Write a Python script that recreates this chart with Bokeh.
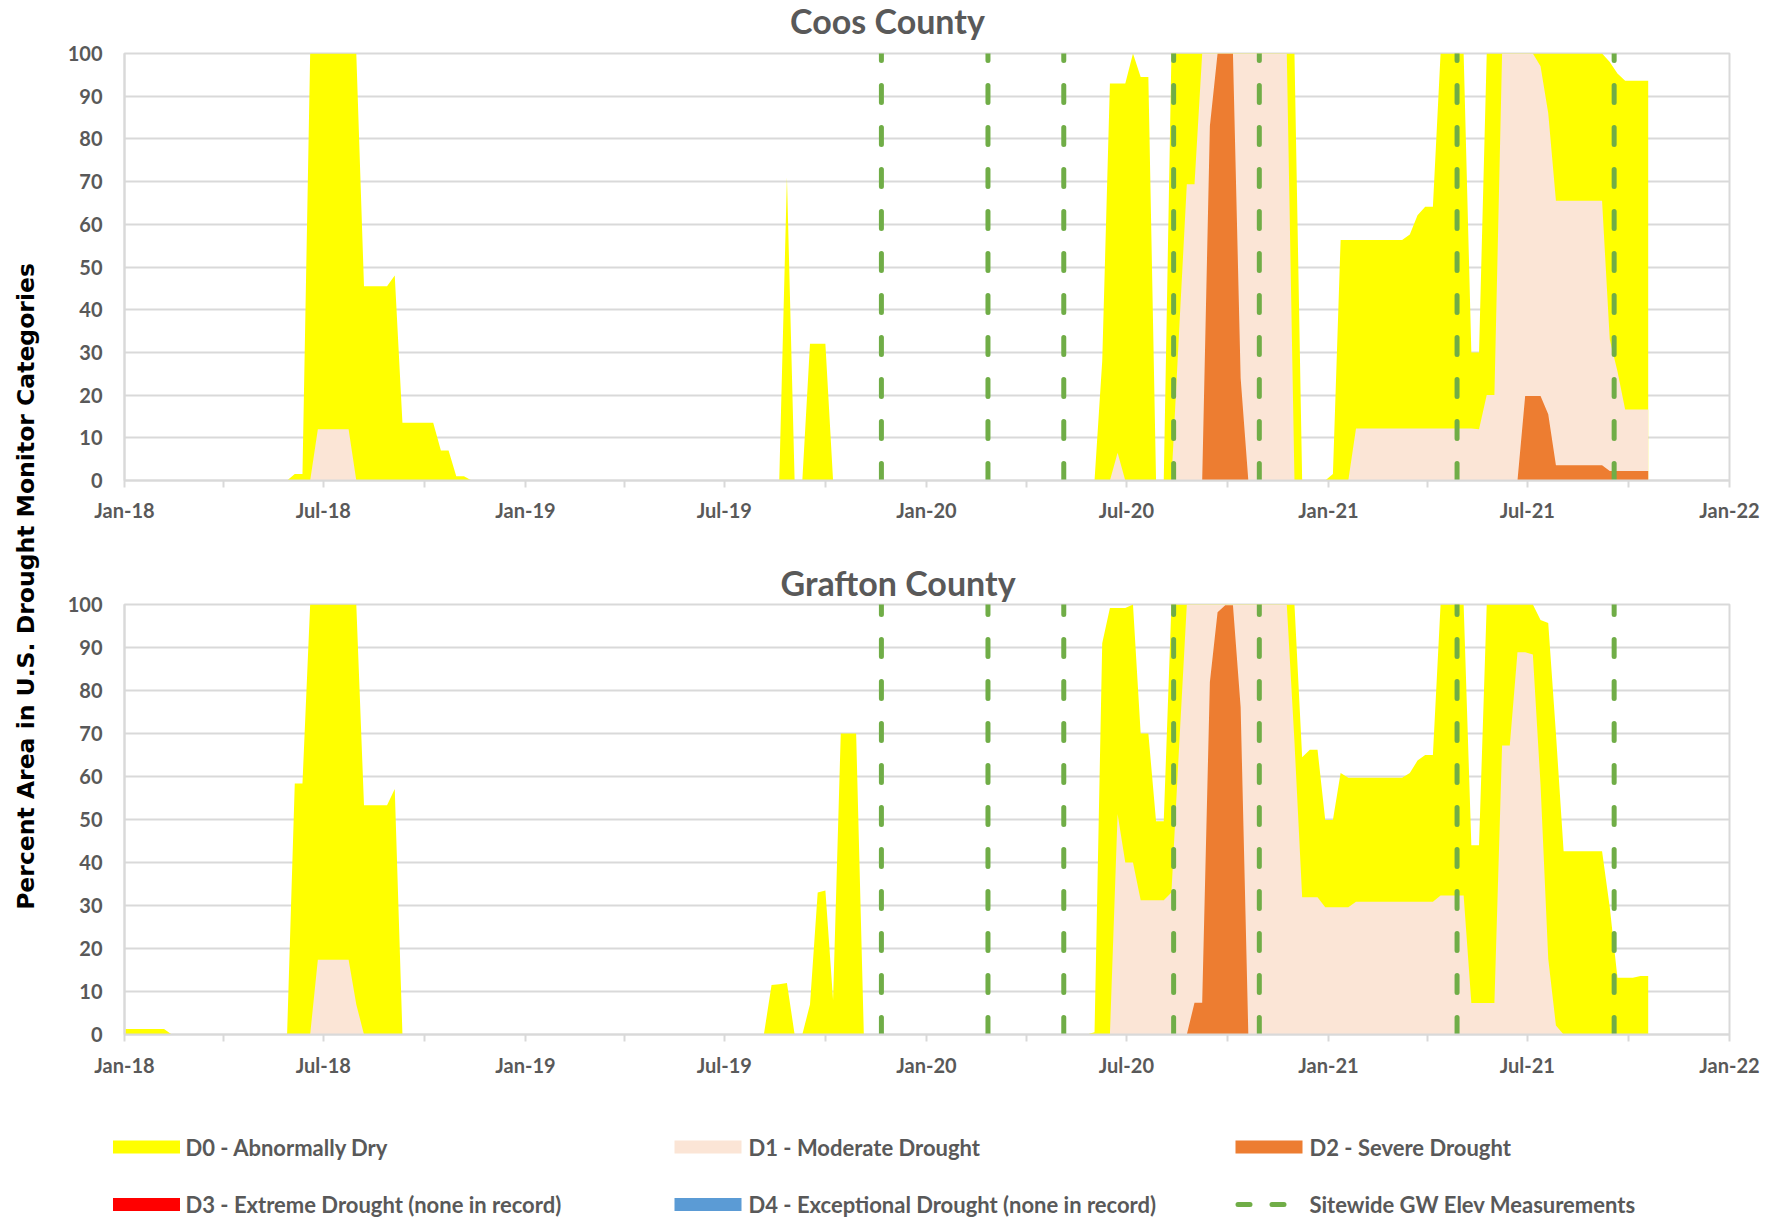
import math
import numpy as np
import pandas as pd
from bokeh.plotting import figure
from bokeh.layouts import row, column
from bokeh.models import Range1d, FixedTicker, DatetimeTickFormatter, ColumnDataSource
from bokeh.embed import file_html
from bokeh.resources import INLINE
from bokeh.core.properties import value

# ---------------- data ----------------
FIRST_WEEK = "2018-01-02"   # weekly U.S. Drought Monitor maps (Tuesdays)
N_WEEKS = 199

# cumulative percent area, episodes: (first week, weekly values); zero elsewhere
coos_d0 = [
    ("2018-05-29", [0, 1.5, 1.5, 100, 100, 100, 100, 100, 100, 100, 45.5, 45.5, 45.5, 45.5,
                    48, 13.5, 13.5, 13.5, 13.5, 13.5, 7, 7, 1, 1, 0]),
    ("2019-08-20", [0, 71, 0, 0, 32, 32, 32, 0]),
    ("2020-06-02", [0, 28, 93, 93, 93, 100, 94.5, 94.5, 0]),
    ("2020-08-04", [0, 100, 100, 100, 100, 100, 100, 100, 100, 100, 100, 100, 100, 100, 100,
                    100, 100, 100, 0]),
    ("2020-12-29", [0, 1.5, 56.3, 56.3, 56.3, 56.3, 56.3, 56.3, 56.3, 56.3, 56.3, 57.6, 62.1,
                    64.1, 64.1, 100, 100, 100, 100, 30, 30, 100, 100, 100, 100, 100, 100, 100,
                    100, 100, 100, 100, 100, 100, 100, 100, 100, 98, 95.3, 93.6, 93.6, 93.6, 93.6]),
]
coos_d1 = [
    ("2018-06-19", [0, 12, 12, 12, 12, 12, 0]),
    ("2020-06-16", [0, 6.5, 0]),
    ("2020-08-11", [0, 35, 69.4, 69.4, 100, 100, 100, 100, 100, 100, 100, 100, 100, 100, 100,
                    100, 0]),
    ("2021-01-19", [0, 12.2, 12.2, 12.2, 12.2, 12.2, 12.2, 12.2, 12.2, 12.2, 12.2, 12.2, 12.2,
                    12.2, 12.2, 12.2, 12.2, 12, 20, 20, 100, 100, 100, 100, 100, 97, 86, 65.5,
                    65.5, 65.5, 65.5, 65.5, 65.5, 65.5, 33, 25.6, 16.6, 16.6, 16.6, 16.6]),
]
coos_d2 = [
    ("2020-09-08", [0, 83, 100, 100, 100, 24, 0]),
    ("2021-06-22", [0, 19.8, 19.8, 19.8, 15.5, 3.6, 3.6, 3.6, 3.6, 3.6, 3.6, 3.6,
                    2.2, 2.2, 2.2, 2.2, 2.2, 2.2]),
]

grafton_d0 = [
    ("2018-01-02", [1.3, 1.3, 1.3, 1.3, 1.3, 1.3, 0]),
    ("2018-05-29", [0, 58.4, 58.4, 100, 100, 100, 100, 100, 100, 100, 53.3, 53.3, 53.3, 53.3,
                    57.1, 0]),
    ("2019-08-06", [0, 11.5, 11.7, 12, 0, 0, 7, 33, 33.5, 8, 70, 70, 70, 0]),
    ("2020-05-26", [0, 0.5, 91, 99.2, 99.2, 99.2, 100, 70, 70, 49.6, 49.6,
                    100, 100, 100, 100, 100, 100, 100, 100, 100, 100, 100, 100, 100, 100, 100,
                    100, 100, 64.5, 66.2, 66.2, 49.9, 49.9, 60.8, 59.7, 59.7, 59.7, 59.7, 59.7,
                    59.7, 59.7, 59.7, 60.8, 63.7, 65, 65, 100, 100, 100, 100, 44, 44, 100, 100,
                    100, 100, 100, 100, 100, 96.4, 95.7, 70, 42.6, 42.6, 42.6, 42.6, 42.6, 42.6,
                    29.6, 13.2, 13.2, 13.2, 13.6, 13.6]),
]
grafton_d1 = [
    ("2018-06-19", [0, 17.4, 17.4, 17.4, 17.4, 17.4, 7, 0]),
    ("2020-06-16", [0, 51.3, 40, 40, 31.2, 31.2, 31.2, 31.2, 33, 67, 100, 100, 100, 100, 100,
                    100, 100, 100, 100, 100, 100, 100, 100, 100, 68, 31.9, 31.9, 31.9, 29.6,
                    29.6, 29.6, 29.6, 30.9, 30.9, 30.9, 30.9, 30.9, 30.9, 30.9, 30.9, 30.9, 30.9,
                    30.9, 32.3, 32.3, 32.3, 32.3, 7.3, 7.3, 7.3, 7.3, 67.2, 67.2, 88.9, 88.9,
                    88.4, 58, 17.6, 2.1, 0]),
]
grafton_d2 = [
    ("2020-08-25", [0, 7.4, 7.4, 82, 98.2, 99.8, 99.8, 76.1, 0]),
]

gw_measurements = ["2019-11-21", "2020-02-26", "2020-05-05", "2020-08-13",
                   "2020-10-30", "2021-04-28", "2021-09-18"]

x_ticks_labeled = ["2018-01-01", "2018-07-01", "2019-01-01", "2019-07-01", "2020-01-01",
                   "2020-07-01", "2021-01-01", "2021-07-01", "2022-01-01"]
x_ticks_minor = ["2018-04-01", "2018-10-01", "2019-04-01", "2019-10-01", "2020-04-01",
                 "2020-10-01", "2021-04-01", "2021-10-01"]
y_ticks = [0, 10, 20, 30, 40, 50, 60, 70, 80, 90, 100]

county_titles = ["Coos County", "Grafton County"]
y_title = "Percent Area in U.S. Drought Monitor Categories"
legend_labels = ["D0 - Abnormally Dry", "D1 - Moderate Drought", "D2 - Severe Drought",
                 "D3 - Extreme Drought (none in record)", "D4 - Exceptional Drought (none in record)",
                 "Sitewide GW Elev Measurements"]

# ---------------- styling ----------------
C_D0, C_D1, C_D2, C_D3, C_D4 = "#FFFF00", "#FBE5D6", "#ED7D31", "#FF0000", "#5B9BD5"
C_GW = "#70AD47"
GRID = "#D9D9D9"
TXT = "#595959"
FONT = "Lato"
TITLE_SIZE = "34px"

COL_W = 1708          # width of the chart column
B_LEFT, B_RIGHT = 66, 37
FRAME_L = 58 + B_LEFT
FRAME_R = 58 + COL_W - B_RIGHT

weeks = pd.date_range(FIRST_WEEK, periods=N_WEEKS, freq="7D")


def expand(episodes):
    arr = np.zeros(N_WEEKS)
    for start, vals in episodes:
        i = (pd.Timestamp(start) - weeks[0]).days // 7
        arr[i:i + len(vals)] = vals
    return arr


def ms(d):
    return pd.Timestamp(d).value / 1e6


def blank(width, height, xr, yr, **kw):
    p = figure(width=width, height=height, x_range=xr, y_range=yr,
               output_backend="svg", toolbar_location=None,
               x_axis_location=None, y_axis_location=None, **kw)
    p.outline_line_color = None
    p.grid.grid_line_color = None
    return p


def title_strip(text, height, cx, cy):
    t = blank(COL_W, height, Range1d(FRAME_L, FRAME_R), Range1d(0, height),
              min_border_left=B_LEFT, min_border_right=B_RIGHT,
              min_border_top=0, min_border_bottom=0)
    t.text(x=[cx], y=[cy], text=[text], text_align="center", text_baseline="middle",
           text_font=value(FONT), text_font_style="bold", text_font_size=TITLE_SIZE,
           text_color=TXT)
    return t


def panel(d0, d1, d2, height, b_top, b_bottom, xlab_standoff, title=None):
    p = figure(width=COL_W, height=height, x_axis_type="datetime",
               output_backend="svg", toolbar_location=None,
               x_range=Range1d(pd.Timestamp("2018-01-01"), pd.Timestamp("2022-01-01")),
               y_range=Range1d(0, 100),
               min_border_left=B_LEFT, min_border_right=B_RIGHT,
               min_border_top=b_top, min_border_bottom=b_bottom)
    if title is not None:
        text, offset, standoff = title
        p.title.text = text
        p.title.align = "left"
        p.title.offset = offset
        p.title.standoff = standoff
        p.title.text_font = FONT
        p.title.text_font_style = "bold"
        p.title.text_font_size = TITLE_SIZE
        p.title.text_color = TXT
    src = ColumnDataSource(dict(x=weeks, d0=expand(d0), d1=expand(d1), d2=expand(d2)))
    p.varea(x="x", y1=0, y2="d0", source=src, fill_color=C_D0)
    p.varea(x="x", y1=0, y2="d1", source=src, fill_color=C_D1)
    p.varea(x="x", y1=0, y2="d2", source=src, fill_color=C_D2)
    gw = [pd.Timestamp(d) for d in gw_measurements]
    p.segment(x0=gw, y0=[0] * len(gw), x1=gw, y1=[100] * len(gw),
              line_color=C_GW, line_width=5, line_dash="17 25", line_cap="round")

    p.xgrid.grid_line_color = None
    p.ygrid.ticker = FixedTicker(ticks=y_ticks)
    p.ygrid.grid_line_color = GRID
    p.ygrid.grid_line_width = 2
    p.outline_line_color = GRID
    p.outline_line_width = 2

    p.yaxis.ticker = FixedTicker(ticks=y_ticks)
    p.yaxis.axis_line_color = GRID
    p.yaxis.axis_line_width = 2
    p.yaxis.major_tick_line_color = None
    p.yaxis.minor_tick_line_color = None
    p.yaxis.major_tick_out = 0
    p.yaxis.major_tick_in = 0
    p.yaxis.major_label_standoff = 22

    p.xaxis.ticker = FixedTicker(ticks=[ms(d) for d in x_ticks_labeled],
                                 minor_ticks=[ms(d) for d in x_ticks_minor])
    fmt = "%b-%y"
    p.xaxis.formatter = DatetimeTickFormatter(years=fmt, months=fmt, days=fmt, hours=fmt,
                                              minutes=fmt, seconds=fmt, milliseconds=fmt,
                                              microseconds=fmt, hourmin=fmt, minsec=fmt)
    p.xaxis.axis_line_color = GRID
    p.xaxis.axis_line_width = 2
    p.xaxis.major_tick_line_color = GRID
    p.xaxis.minor_tick_line_color = GRID
    p.xaxis.major_tick_line_width = 2
    p.xaxis.minor_tick_line_width = 2
    p.xaxis.major_tick_out = 7
    p.xaxis.major_tick_in = 0
    p.xaxis.minor_tick_out = 7
    p.xaxis.minor_tick_in = 0
    p.xaxis.major_label_standoff = xlab_standoff

    for ax in (p.xaxis, p.yaxis):
        ax.major_label_text_font = FONT
        ax.major_label_text_font_style = "bold"
        ax.major_label_text_font_size = "20px"
        ax.major_label_text_color = TXT
    return p


TOTAL_H = 1217
title1 = title_strip(county_titles[0], 40, 887, 20)
top = panel(coos_d0, coos_d1, coos_d2, 508, 13, 68, 10)
bottom = panel(grafton_d0, grafton_d1, grafton_d2, 547, 56, 61, 11,
               title=(county_titles[1], 656, 4))

# shared y-axis title
ylab = blank(58, 1095, Range1d(0, 58), Range1d(0, 1095), min_border=0)
ylab.text(x=[25], y=[1095 - 586], text=[y_title],
          angle=math.pi / 2, text_align="center", text_baseline="middle",
          text_font=value("DejaVu Sans"), text_font_style="bold", text_font_size="23.5px",
          text_color="#000000")

# legend (page pixel coordinates)
LEG_H = TOTAL_H - 1095
leg = blank(1766, LEG_H, Range1d(0, 1766), Range1d(0, LEG_H), min_border=0)
col_x = [146, 707.5, 1268.5]
row_y = [TOTAL_H - 1146.5, TOTAL_H - 1204]
sw_x = [col_x[0], col_x[1], col_x[2], col_x[0], col_x[1]]
sw_y = [row_y[0], row_y[0], row_y[0], row_y[1], row_y[1]]
leg.rect(x=sw_x, y=sw_y, width=67, height=13,
         fill_color=[C_D0, C_D1, C_D2, C_D3, C_D4], line_color=None)
leg.segment(x0=[1237.5], y0=[row_y[1]], x1=[1290], y1=[row_y[1]], line_color=C_GW,
            line_width=5, line_dash="12 22", line_cap="round")
tx = [185, 748, 1309, 185, 748, 1309]
ty = [row_y[0]] * 3 + [row_y[1]] * 3
leg.text(x=tx, y=ty, text=legend_labels, text_align="left", text_baseline="middle",
         text_font=value(FONT), text_font_style="bold", text_font_size="22px",
         text_color=TXT)

charts = column(title1, top, bottom, spacing=0)
layout = column(row(ylab, charts, spacing=0), leg, spacing=0)
open("out.html", "w").write(file_html(layout, INLINE))
